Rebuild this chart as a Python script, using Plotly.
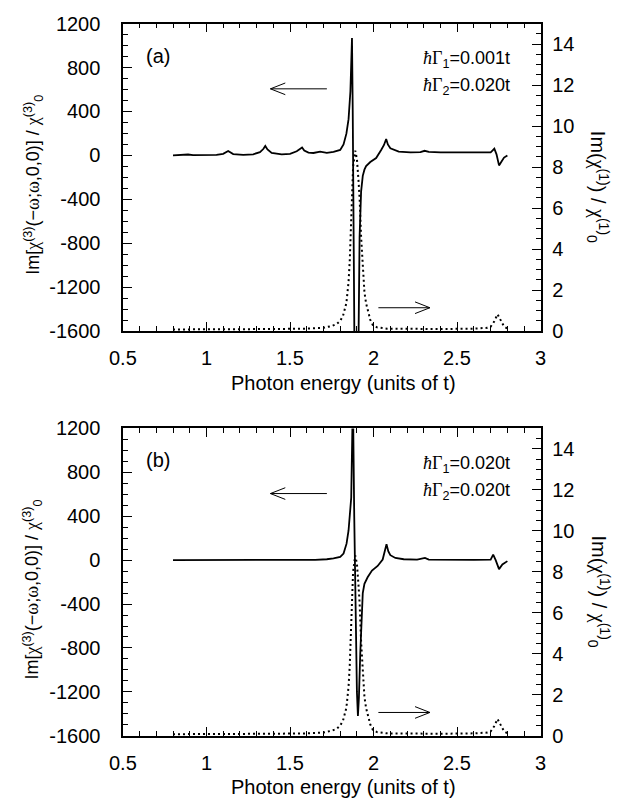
import plotly.graph_objects as go

# ---------------- data ----------------
# panel (a): Im chi(3), hbar G1 = 0.001t
xa_chi3 = [0.80, 0.86, 0.89, 0.92, 1.00, 1.06, 1.10, 1.13, 1.16, 1.22, 1.28, 1.32, 1.34, 1.352,
           1.365, 1.39, 1.45, 1.50, 1.54, 1.56, 1.572, 1.585, 1.61, 1.64, 1.68, 1.72, 1.76, 1.80,
           1.82, 1.837, 1.85, 1.861, 1.867, 1.8705, 1.875, 1.880, 1.886, 1.896, 1.904, 1.910,
           1.916, 1.925, 1.935, 1.945, 1.955, 1.98, 2.015, 2.045, 2.062, 2.075, 2.085, 2.10,
           2.15, 2.22, 2.28, 2.305, 2.33, 2.40, 2.55, 2.70, 2.712, 2.722, 2.735, 2.75, 2.765,
           2.78, 2.80]
ya_chi3 = [0, 2, 8, 2, 0, 4, 14, 40, 12, 5, 10, 30, 58, 86,
           55, 22, 10, 14, 38, 60, 72, 45, 25, 22, 35, 24, 32, 50,
           100, 198, 330, 582, 850, 1070, 400, -600, -2500, -4000, -2500, -1200,
           -744, -330, -186, -130, -97, -60, -24, 50, 95, 150, 100, 65,
           35, 28, 30, 42, 32, 27, 27, 28, 45, 62, 10, -91, -55,
           -20, 0]

# panel (b): Im chi(3), hbar G1 = 0.020t
xb_chi3 = [0.80, 1.00, 1.30, 1.50, 1.65, 1.72, 1.76, 1.80, 1.82, 1.838, 1.85, 1.866, 1.872,
           1.876, 1.884, 1.892, 1.900, 1.906, 1.912, 1.920, 1.925, 1.935, 1.945, 1.955,
           1.964, 1.99, 2.024, 2.054, 2.066, 2.077, 2.088, 2.10, 2.13, 2.18, 2.26, 2.307,
           2.33, 2.45, 2.60, 2.70, 2.715, 2.73, 2.75, 2.77, 2.80]
yb_chi3 = [0, 0, 0, 0, 3, 8, 15, 30, 60, 150, 270, 570, 1000,
           1500, 400, -500, -1200, -1420, -1250, -850, -650, -300, -215, -180,
           -156, -95, -53, 6, 70, 145, 80, 45, 20, 8, 4, 20,
           5, 2, 2, 5, 50, 0, -82, -40, -9]

# Im chi(1) (dotted, right axis), same in both panels
x_chi1 = [0.80, 1.00, 1.20, 1.40, 1.60, 1.70, 1.75, 1.78, 1.80, 1.817, 1.837, 1.85, 1.857,
          1.867, 1.877, 1.89, 1.90, 1.91, 1.916, 1.925, 1.935, 1.945, 1.955, 1.965, 1.98,
          1.995, 2.02, 2.08, 2.20, 2.40, 2.60, 2.68, 2.70, 2.72, 2.741, 2.76, 2.78, 2.80]
y_chi1 = [0.08, 0.08, 0.09, 0.10, 0.12, 0.16, 0.25, 0.35, 0.50, 0.75, 1.37, 2.40, 3.40,
          6.00, 8.00, 8.80, 8.40, 7.30, 6.50, 4.60, 2.95, 1.90, 1.35, 1.00, 0.55,
          0.30, 0.18, 0.12, 0.10, 0.10, 0.12, 0.16, 0.22, 0.45, 0.82, 0.50, 0.22, 0.12]

left_tick_vals = [-1600, -1200, -800, -400, 0, 400, 800, 1200]
left_tick_text = ["-1600", "-1200", "-800", "-400", "0", "400", "800", "1200"]
right_tick_vals = [0, 2, 4, 6, 8, 10, 12, 14]
right_tick_text = ["0", "2", "4", "6", "8", "10", "12", "14"]
x_tick_vals = [0.5, 1, 1.5, 2, 2.5, 3]
x_tick_text = ["0.5", "1", "1.5", "2", "2.5", "3"]

panel_labels = ["(a)", "(b)"]
gamma1_text = ["0.001t", "0.020t"]
gamma2_text = ["0.020t", "0.020t"]

# minor tick positions (axis decoration)
x_minor = [round(0.5 + 0.1 * k, 2) for k in range(26)]
left_minor = [-1600 + 100 * k for k in range(29)]
right_minor = [0.5 * k for k in range(31)]

X_RANGE = [0.5, 3]
LEFT_RANGE = [-1600, 1200]
RIGHT_RANGE = [0, 15]

# ---------------- layout helpers ----------------
W, H = 630, 812
FONT = "Liberation Sans, Arial, sans-serif"
SERIF = "Liberation Serif"
TICKFONT = dict(family=FONT, size=20, color="black")
NB = "\u00a0"

def px(x):
    return x / W

def py(y):
    return 1 - y / H

def g(s):
    return "<span style='font-family:%s'>%s</span>" % (SERIF, s)

def ref(kind, k):
    return kind if k == 1 else "%s%d" % (kind, k)

def key(kind, k):
    return kind + "axis" + ("" if k == 1 else str(k))

panels = [  # pixel boxes: left, right, top, bottom
    dict(l=121, r=543, t=13, b=329),
    dict(l=121, r=543, t=429, b=745),
]

fig = go.Figure()

def minor(vals):
    return dict(ticks="inside", tickmode="array", tickvals=vals,
                ticklen=5, tickcolor="black", tickwidth=1, showgrid=False)

def main_axis(rng, minor_vals, vals, text):
    return dict(showline=True, linecolor="black", linewidth=1.6,
                ticks="inside", tickcolor="black", tickwidth=1.2, ticklen=9,
                showgrid=False, zeroline=False, showticklabels=True,
                tickmode="array", tickvals=vals, ticktext=text, tickfont=TICKFONT,
                range=rng, minor=minor(minor_vals))

for i, p in enumerate(panels):
    xm = i + 1
    yl_m, yr_m = 2 * i + 1, 2 * i + 2
    if i == 0:
        xs, ys = xa_chi3, ya_chi3
    else:
        xs, ys = xb_chi3, yb_chi3
    fig.add_trace(go.Scatter(x=x_chi1, y=y_chi1, mode="lines",
                             xaxis=ref("x", xm), yaxis=ref("y", yr_m),
                             line=dict(color="black", width=2, dash="2px,3px"),
                             showlegend=False, hoverinfo="skip"))
    fig.add_trace(go.Scatter(x=xs, y=ys, mode="lines",
                             xaxis=ref("x", xm), yaxis=ref("y", yl_m),
                             line=dict(color="black", width=1.8),
                             showlegend=False, hoverinfo="skip"))

    xdom = [px(p["l"]), px(p["r"])]
    ydom = [py(p["b"]), py(p["t"])]

    # x tick labels are drawn as annotations at the x-axis values (placed lower)
    ax_x = main_axis(X_RANGE, x_minor, x_tick_vals, [NB for _ in x_tick_text])
    ax_yl = main_axis(LEFT_RANGE, left_minor, left_tick_vals,
                      [t + NB + NB + NB for t in left_tick_text])
    ax_yr = main_axis(RIGHT_RANGE, right_minor, right_tick_vals,
                      [NB + t for t in right_tick_text])
    ax_x.update(domain=xdom, anchor=ref("y", yl_m), mirror="ticks")
    ax_yl.update(domain=ydom, anchor=ref("x", xm))
    ax_yr.update(domain=ydom, anchor=ref("x", xm), overlaying=ref("y", yl_m), side="right")
    fig.update_layout(**{key("x", xm): ax_x, key("y", yl_m): ax_yl, key("y", yr_m): ax_yr})

    top, bot = p["t"], p["b"]
    for v, t in zip(x_tick_vals, x_tick_text):
        fig.add_annotation(xref=ref("x", xm), yref="paper", x=v, y=py(bot + 28),
                           text=t, showarrow=False, xanchor="center", yanchor="middle",
                           font=TICKFONT)
    # axis titles
    fig.add_annotation(xref="paper", yref="paper", x=px(30), y=py((top + bot) / 2 + 8),
                       text="Im[" + g("χ") + "<sup>(3)</sup>(−" + g("ω") + ";" + g("ω")
                            + ",0,0)] / " + g("χ") + "<sup>(3)</sup><sub>0</sub>",
                       textangle=-90, showarrow=False, xanchor="center", yanchor="middle",
                       font=dict(family=FONT, size=18, color="black"))
    fig.add_annotation(xref="paper", yref="paper", x=px(601), y=py(top + 168),
                       text="Im(" + g("χ") + "<sup>(1)</sup>) / " + g("χ")
                            + "<sup>(1)</sup><sub>0</sub>",
                       textangle=90, showarrow=False, xanchor="center", yanchor="middle",
                       font=dict(family=FONT, size=20, color="black"))
    fig.add_annotation(xref="paper", yref="paper", x=px(344), y=py(bot + 53),
                       text="Photon energy (units of t)", showarrow=False,
                       xanchor="center", yanchor="middle",
                       font=dict(family=FONT, size=20, color="black"))
    # panel label and parameters
    fig.add_annotation(xref="paper", yref="paper", x=px(156), y=py(top + 33),
                       text=panel_labels[i], showarrow=False, xanchor="center", yanchor="middle",
                       font=dict(family=FONT, size=20, color="black"))
    fig.add_annotation(xref="paper", yref="paper", x=px(514), y=py(top + 37),
                       text=g("<i>ħ</i>Γ") + "<sub>1</sub>=" + gamma1_text[i],
                       showarrow=False, xanchor="right", yanchor="middle",
                       font=dict(family=FONT, size=18, color="black"))
    fig.add_annotation(xref="paper", yref="paper", x=px(514), y=py(top + 65),
                       text=g("<i>ħ</i>Γ") + "<sub>2</sub>=" + gamma2_text[i],
                       showarrow=False, xanchor="right", yanchor="middle",
                       font=dict(family=FONT, size=18, color="black"))

    # arrows (open heads)
    def arrow(x0, x1, y, head_left):
        hx = x0 if head_left else x1
        d = 15 if head_left else -15
        fig.add_shape(type="path", xref="paper", yref="paper",
                      path="M %f,%f L %f,%f" % (px(x0), py(y), px(x1), py(y)),
                      line=dict(color="black", width=1))
        fig.add_shape(type="path", xref="paper", yref="paper",
                      path="M %f,%f L %f,%f L %f,%f" % (px(hx + d), py(y - 6), px(hx), py(y),
                                                        px(hx + d), py(y + 6)),
                      line=dict(color="black", width=1))
    arrow(270, 327, top + 67, True)
    arrow(379, 431, bot - 24, False)

fig.update_layout(width=W, height=H, margin=dict(l=0, r=0, t=0, b=0),
                  paper_bgcolor="white", plot_bgcolor="white",
                  font=dict(family=FONT, size=20, color="black"))

fig.write_html("out.html")
